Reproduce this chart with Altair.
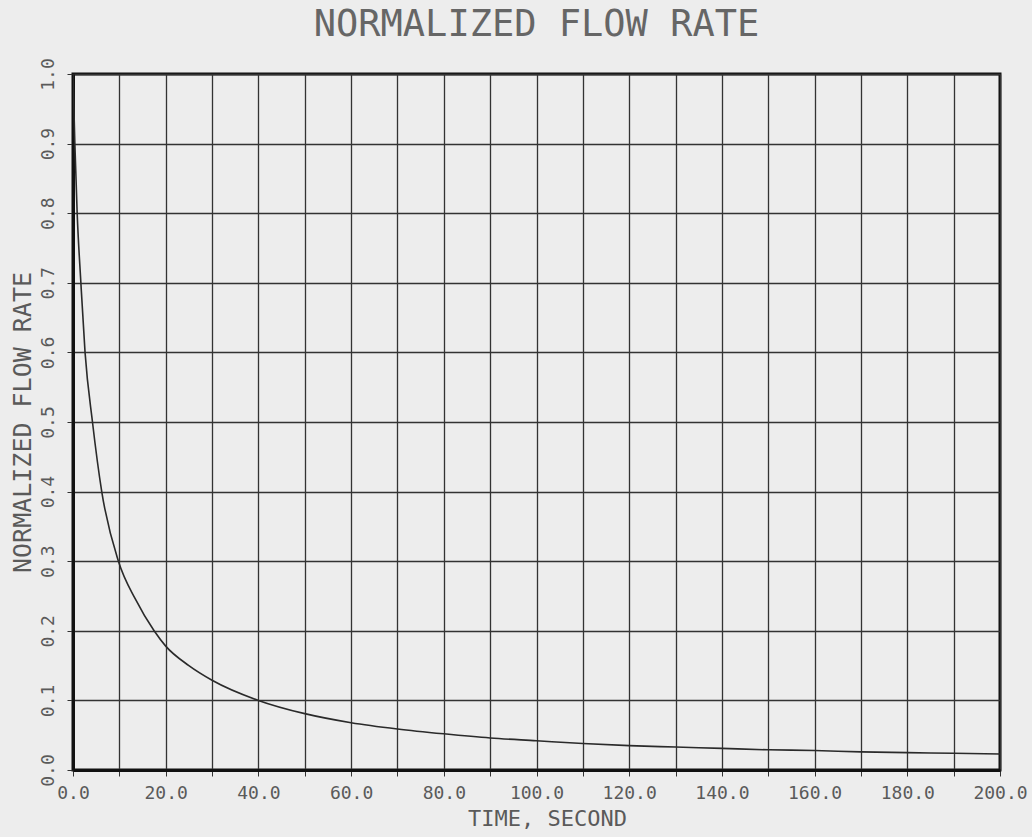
import altair as alt
import pandas as pd

times = [0, 0.4, 0.9, 1.7, 2.6, 4.2, 6.2, 9.8, 13.5, 17.5, 20, 25, 30, 40, 50,
         60, 70, 80, 90, 100, 110, 120, 130, 140, 150, 160, 170, 180, 190, 200]
flow = [1.0, 0.9, 0.8, 0.7, 0.6, 0.5, 0.4, 0.3, 0.245, 0.2, 0.178, 0.15, 0.129,
        0.1, 0.081, 0.068, 0.059, 0.052, 0.046, 0.042, 0.038, 0.035, 0.033,
        0.031, 0.029, 0.028, 0.026, 0.025, 0.024, 0.023]

x_ticks = list(range(0, 201, 10))
y_ticks = [round(i * 0.1, 1) for i in range(11)]

df = pd.DataFrame({"t": times, "q": flow})

FONT = "DejaVu Sans Mono"
TXT = "#5a5a5a"
GRID = "#333333"

chart = (
    alt.Chart(df)
    .mark_line(color="#2a2a2a", strokeWidth=1.6, interpolate="monotone", clip=True)
    .encode(
        x=alt.X(
            "t:Q",
            scale=alt.Scale(domain=[0, 200], nice=False, zero=False),
            axis=alt.Axis(
                values=x_ticks,
                labelExpr="datum.value % 20 == 0 ? format(datum.value, '.1f') : ''",
                labelFlush=False,
                labelOverlap=False,
                title="TIME, SECOND",
                titleX=474,
                titleY=48,
                titleBaseline="middle",
                titleFontSize=22,
                titleFont=FONT,
                titleFontWeight="normal",
                titleColor=TXT,
                labelFont=FONT,
                labelFontSize=18,
                labelColor=TXT,
                labelPadding=8,
                tickSize=6,
                tickColor=GRID,
                grid=True,
                gridColor=GRID,
                gridWidth=1.3,
                gridOpacity=1,
                domainColor="#111111",
                domainWidth=3,
            ),
        ),
        y=alt.Y(
            "q:Q",
            scale=alt.Scale(domain=[0, 1], nice=False),
            axis=alt.Axis(
                values=y_ticks,
                format=".1f",
                labelFlush=False,
                labelOverlap=False,
                title="NORMALIZED FLOW RATE",
                titleAngle=270,
                titleX=-51,
                titleY=348,
                titleAlign="center",
                titleBaseline="middle",
                titleFontSize=25,
                titleFont=FONT,
                titleFontWeight="normal",
                titleColor=TXT,
                labelAngle=270,
                labelAlign="center",
                labelBaseline="middle",
                labelFont=FONT,
                labelFontSize=18,
                labelColor=TXT,
                labelPadding=19,
                tickSize=6,
                tickColor=GRID,
                grid=True,
                gridColor=GRID,
                gridWidth=1.3,
                gridOpacity=1,
                domainColor="#111111",
                domainWidth=3,
            ),
        ),
    )
    .properties(
        width=927,
        height=696,
        title=alt.TitleParams(
            "NORMALIZED FLOW RATE",
            font=FONT,
            fontSize=37,
            fontWeight="normal",
            color="#666666",
            anchor="middle",
            offset=14,
        ),
        autosize=alt.AutoSizeParams(type="none"),
        padding={"left": 73, "top": 74, "right": 32, "bottom": 67},
        background="#ededed",
    )
    .configure_view(stroke="#111111", strokeWidth=3)
)

chart.save("out.html", embed_options={"renderer": "svg", "actions": False})
